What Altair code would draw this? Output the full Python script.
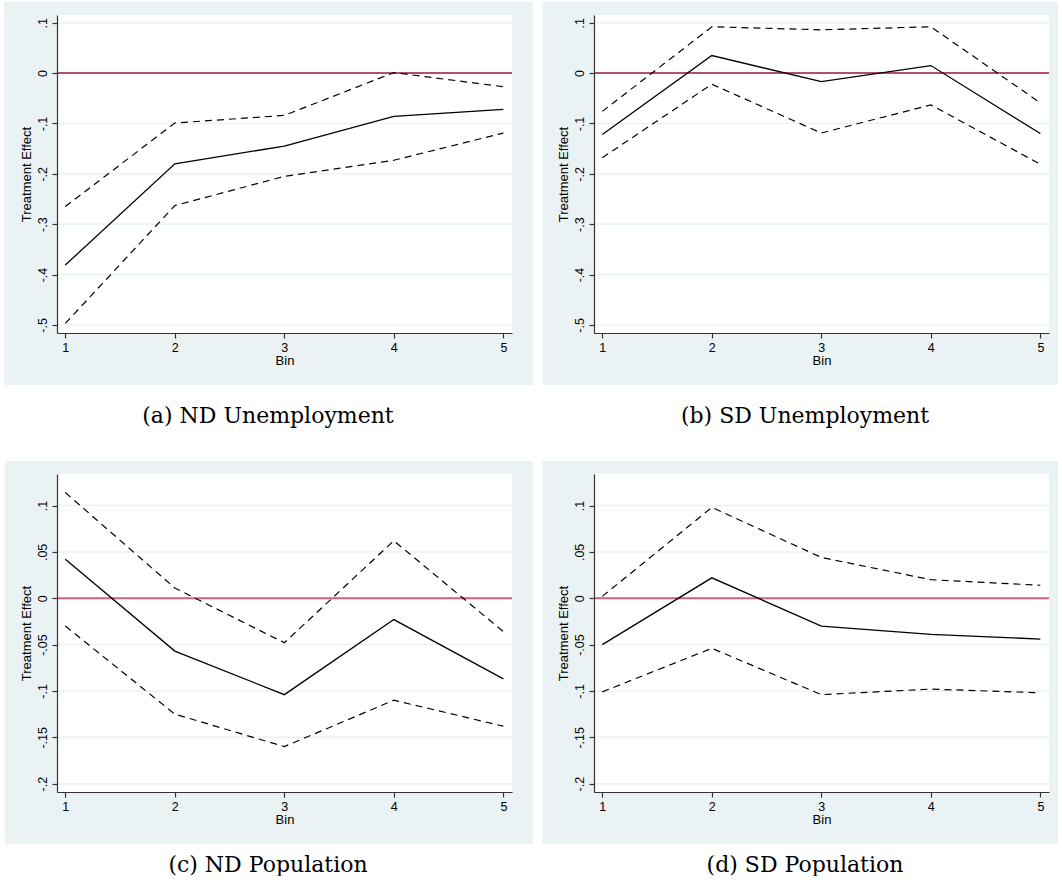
import altair as alt
import pandas as pd

bins = [1, 2, 3, 4, 5]

# (a) ND Unemployment: point estimate and 95% band
nd_unemp_est = [-0.381, -0.180, -0.145, -0.086, -0.072]
nd_unemp_hi = [-0.265, -0.099, -0.084, 0.001, -0.027]
nd_unemp_lo = [-0.497, -0.263, -0.205, -0.173, -0.119]

# (b) SD Unemployment
sd_unemp_est = [-0.122, 0.035, -0.017, 0.015, -0.120]
sd_unemp_hi = [-0.076, 0.092, 0.086, 0.092, -0.059]
sd_unemp_lo = [-0.168, -0.022, -0.119, -0.063, -0.181]

# (c) ND Population
nd_pop_est = [0.042, -0.057, -0.104, -0.023, -0.087]
nd_pop_hi = [0.114, 0.011, -0.048, 0.062, -0.036]
nd_pop_lo = [-0.030, -0.125, -0.160, -0.110, -0.138]

# (d) SD Population
sd_pop_est = [-0.050, 0.022, -0.030, -0.039, -0.044]
sd_pop_hi = [0.002, 0.098, 0.044, 0.020, 0.014]
sd_pop_lo = [-0.101, -0.054, -0.104, -0.098, -0.102]

unemp_ticks = [0.1, 0, -0.1, -0.2, -0.3, -0.4, -0.5]
pop_ticks = [0.1, 0.05, 0, -0.05, -0.1, -0.15, -0.2]
unemp_domain = [-0.516, 0.1154]
pop_domain = [-0.209, 0.134]

W, H = 455, 318
REGION = "#eaf2f3"
LABEL_EXPR = ("datum.value == 0 ? '0' : (datum.value < 0 ? '-' : '') + "
              "replace(format(abs(datum.value), '.2~f'), '0.', '.')")


def panel(caption, est, hi, lo, ticks, domain, zero_color, zero_width,
          region_left, region_right, cap_offset):
    rows = []
    for name, vals in (("est", est), ("hi", hi), ("lo", lo)):
        for b, v in zip(bins, vals):
            rows.append({"bin": b, "value": v, "series": name})
    df = pd.DataFrame(rows)

    yscale = alt.Scale(domain=domain, nice=False, zero=False)
    yaxis = alt.Axis(values=ticks, labelExpr=LABEL_EXPR, title="Treatment Effect",
                     labelAngle=270, labelAlign="center", labelBaseline="bottom",
                     grid=False, zindex=1, labelPadding=3, titlePadding=3)
    xscale = alt.Scale(domain=[0.924, 5.079], nice=False, zero=False)
    xaxis = alt.Axis(values=bins, format="d", title="Bin", grid=False, zindex=1,
                     labelAngle=0, labelPadding=3, titlePadding=1)

    one = alt.Data(values=[{}])
    # graph region behind the plot
    region = alt.Chart(one).mark_rect(fill=REGION).encode(
        x=alt.value(region_left), x2=alt.value(W + region_right),
        y=alt.value(-13), y2=alt.value(H + 52),
    )
    # white plot area
    plot_area = alt.Chart(one).mark_rect(fill="white").encode(
        x=alt.value(0), x2=alt.value(W), y=alt.value(0), y2=alt.value(H),
    )
    grid = alt.Chart(pd.DataFrame({"value": ticks})).mark_rule(
        color=REGION, strokeWidth=1.5
    ).encode(y=alt.Y("value:Q", scale=yscale, axis=yaxis))
    zero = alt.Chart(one).mark_rule(color=zero_color, strokeWidth=zero_width).encode(
        y=alt.datum(0, scale=yscale)
    )
    est_line = alt.Chart(df).transform_filter("datum.series == 'est'").mark_line(
        color="black", strokeWidth=1.3
    ).encode(
        x=alt.X("bin:Q", scale=xscale, axis=xaxis),
        y=alt.Y("value:Q", scale=yscale, axis=yaxis),
    )
    band_lines = alt.Chart(df).transform_filter("datum.series != 'est'").mark_line(
        color="black", strokeWidth=1.2, strokeDash=[7, 5]
    ).encode(
        x=alt.X("bin:Q", scale=xscale, axis=xaxis),
        y=alt.Y("value:Q", scale=yscale, axis=yaxis),
        detail="series:N",
    )
    return alt.layer(region, plot_area, grid, zero, est_line, band_lines).properties(
        width=W, height=H,
        title=alt.TitleParams(text=caption, orient="bottom", font="DejaVu Serif",
                              fontSize=22, fontWeight="normal", color="black",
                              anchor="middle", dx=-16.5, offset=cap_offset),
    )


a = panel("(a) ND Unemployment", nd_unemp_est, nd_unemp_hi, nd_unemp_lo,
          unemp_ticks, unemp_domain, "#a3163a", 1.5, -53, 21, 21)
b = panel("(b) SD Unemployment", sd_unemp_est, sd_unemp_hi, sd_unemp_lo,
          unemp_ticks, unemp_domain, "#a3163a", 1.5, -51.6, 9, 21)
c = panel("(c) ND Population", nd_pop_est, nd_pop_hi, nd_pop_lo,
          pop_ticks, pop_domain, "#d4607f", 2, -52, 21, 11)
d = panel("(d) SD Population", sd_pop_est, sd_pop_hi, sd_pop_lo,
          pop_ticks, pop_domain, "#d4607f", 2, -51.6, 9, 11)

chart = alt.concat(
    a, b, c, d, columns=2,
    spacing=alt.RowColnumber(row=141, column=82),
    bounds="flush",
).properties(
    background="white",
    padding={"left": 4, "top": 2, "right": 0, "bottom": 0},
).configure_view(
    strokeWidth=0
).configure_axis(
    labelFont="Liberation Sans", labelFontSize=12.5, labelColor="black",
    titleFont="Liberation Sans", titleFontSize=13, titleFontWeight="normal",
    titleColor="black", domainColor="#333333", domainWidth=1.2,
    tickColor="#333333", tickSize=5, tickWidth=1.2,
)

chart.save("out.html", embed_options={"renderer": "svg", "actions": False})
